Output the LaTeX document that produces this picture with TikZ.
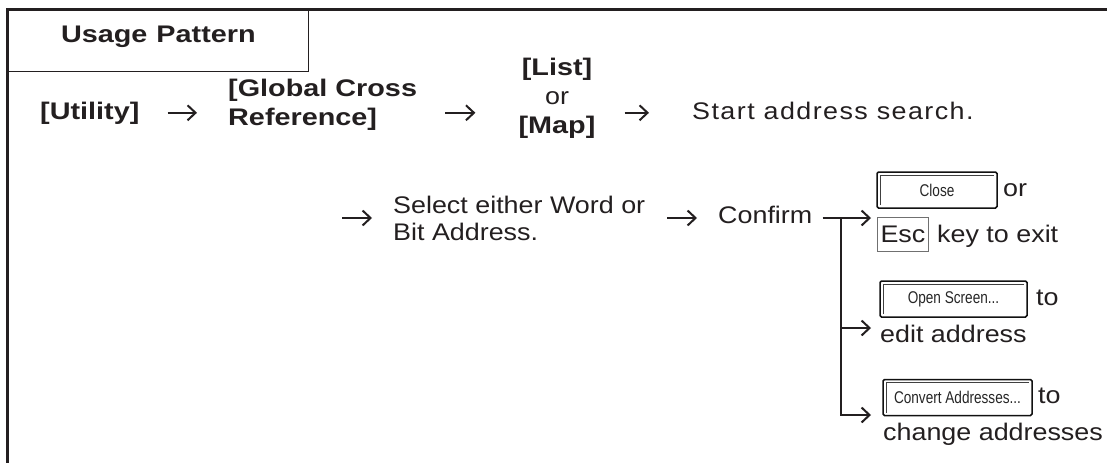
\documentclass[tikz,border=0pt]{standalone}
\usepackage{fontspec}
\setmainfont{Liberation Sans}[FakeStretch=1.12]
\newfontfamily\hdfont{Liberation Sans}[FakeStretch=1.2]
\newfontfamily\wideface{Liberation Sans}[FakeStretch=1.12,LetterSpace=6]
\newfontfamily\btnfont{Liberation Sans}[FakeStretch=0.8]
\usetikzlibrary{arrows.meta,calc}
\definecolor{cInk}{HTML}{231F20}
\definecolor{cEdge}{HTML}{111111}
\definecolor{cKey}{HTML}{707070}
\newcommand{\rg}{\normalfont\fontsize{24}{29}\selectfont}
\tikzset{
  txt/.style={inner sep=0pt,text=cInk,font=\fontsize{24}{27}\selectfont},
  hd/.style={txt,font=\fontsize{24}{29}\hdfont\bfseries},
  btn/.style={draw=cEdge,line width=1.5pt,rounded corners=1.5pt,text=black!85,
              font=\fontsize{17}{18}\btnfont,minimum height=36pt,inner sep=0pt,
              path picture={\draw[line width=0.7pt,black!75,sharp corners]
                ([shift={(3pt,3pt)}]path picture bounding box.south west) --
                ([shift={(3pt,-3pt)}]path picture bounding box.north west) --
                ([shift={(-3pt,-3pt)}]path picture bounding box.north east);}},
  keybox/.style={txt,draw=cKey,line width=1pt,inner xsep=3pt,minimum height=34pt},
  arr/.style={-{Straight Barb[length=8pt,width=15pt]},line width=2pt,draw=cInk},
  frame/.style={line width=2.6pt,draw=cInk},
}

\begin{document}
\begin{tikzpicture}[x=1pt,y=-1pt]
\useasboundingbox (0,0) rectangle (1107,463);

% ---------------------------------------------------------------- FRAME
\node[hd,draw=cInk,line width=1.3pt,minimum width=300.5pt,minimum height=61pt,
      text height=17.5pt,text depth=13.5pt,anchor=north west] (title) at (7.5,9.5)
      {Usage\hspace{9pt}Pattern};
\draw[frame] (1107,9.5) -- (7.5,9.5) -- (7.5,463);

% ---------------------------------------------------------------- ROW 1
\node[hd,anchor=base west] (util) at (40,119) {[Utility]};
\node[hd,anchor=west,align=left] (gcr) at (228,105) {[Global Cross\\Reference]};
\node[hd,align=center] (lm) at (557,98) {[List]\\{\rg or}\\{}[Map]};
\node[txt,font=\fontsize{24}{27}\wideface,anchor=base west] (start) at (692,119) {Start address search.};

% ---------------------------------------------------------------- ROW 2
\coordinate (cont) at (342,218);
\node[txt,anchor=west,align=left] (sel) at (393,218) {Select either Word or\\Bit Address.};
\node[txt,anchor=base west] (confirm) at (718,223) {Confirm};

% ---------------------------------------------------------------- OPTIONS
\node[btn,minimum width=120pt] (bClose) at (937,190) {Close};
\node[txt,anchor=base west] (orA) at (1003,196) {or};
\node[keybox,anchor=west] (esc) at (877,234) {Esc};
\node[txt,anchor=base west] (keyA) at (937,242) {key to exit};

\node[btn,minimum width=147pt] (bOpen) at (953.5,299) {Open Screen...};
\node[txt,anchor=base west] (toA) at (1036,305) {to};
\node[txt,anchor=base west] (editA) at (880,342) {edit address};

\node[btn,minimum width=149pt] (bConv) at (957.5,397.5) {Convert Addresses...};
\node[txt,anchor=base west] (toB) at (1038,403) {to};
\node[txt,anchor=base west] (chgA) at (883,440) {change addresses};

\coordinate (fork) at (841,218);
\coordinate (tClose) at (871,218);
\coordinate (tOpen) at (871,328);
\coordinate (tConv) at (871,415);

% ---------------------------------------------------------------- arrows
\draw[arr,shorten <=28pt,shorten >=31pt] (util.east) -- (util.east -| gcr.west);
\draw[arr,shorten <=28pt,shorten >=43pt] (gcr.east |- util.east) -- (lm.west |- util.east);
\draw[arr,shorten <=29pt,shorten >=43pt] (lm.east |- util.east) -- (start.west |- util.east);

\draw[arr,shorten >=21pt] (cont) -- (sel.west |- cont);
\draw[arr,shorten <=22pt,shorten >=21pt] (sel.east |- cont) -- (confirm.west |- cont);
\draw[arr,shorten <=10pt] (confirm.east |- fork) -- (tClose);
\draw[arr] (fork) |- (tConv);
\draw[arr] (fork |- tOpen) -- (tOpen);

\end{tikzpicture}
\end{document}
